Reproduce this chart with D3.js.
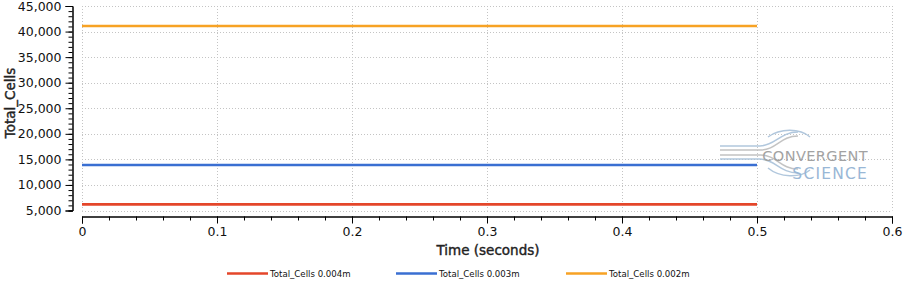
<!doctype html>
<html lang="en">
<head>
  <meta charset="utf-8">
  <style>
    body { margin: 0; background: #fff; }
    svg text { font-family: "DejaVu Sans", Verdana, sans-serif; }
  </style>
</head>
<body>
  <script src="https://d3js.org/d3.v7.min.js"></script>
  <div id="chart"></div>
  <script>
    // data
    var times = [0, 0.1, 0.2, 0.3, 0.4, 0.5];
    var cells004 = [6200, 6200, 6200, 6200, 6200, 6200];
    var cells003 = [13900, 13900, 13900, 13900, 13900, 13900];
    var cells002 = [41100, 41100, 41100, 41100, 41100, 41100];
    var seriesNames = ["Total_Cells 0.004m", "Total_Cells 0.003m", "Total_Cells 0.002m"];
    var seriesColors = ["#e4462a", "#3a6fd2", "#f7a224"];
    var xTicks = [0, 0.1, 0.2, 0.3, 0.4, 0.5, 0.6];
    var yTicks = [5000, 10000, 15000, 20000, 25000, 30000, 35000, 40000, 45000];

    var width = 903, height = 284;
    var plot = {left: 82, right: 892, top: 6, bottom: 210.5};

    var svg = d3.select("#chart").append("svg")
                .attr("width", width)
                .attr("height", height);

    var x = d3.scaleLinear().domain([0, 0.6]).range([plot.left, plot.right]);
    var y = d3.scaleLinear().domain([5000, 45000]).range([plot.bottom, plot.top]);

    // grid
    var grid = svg.append("g").attr("stroke", "#c4c4c4").attr("stroke-dasharray", "1,2");
    grid.selectAll("line.h").data(yTicks).enter().append("line")
        .attr("x1", plot.left).attr("x2", plot.right)
        .attr("y1", d => Math.round(y(d)) + 0.5).attr("y2", d => Math.round(y(d)) + 0.5);
    grid.selectAll("line.v").data(xTicks).enter().append("line")
        .attr("y1", plot.top).attr("y2", plot.bottom)
        .attr("x1", d => Math.round(x(d)) + 0.5).attr("x2", d => Math.round(x(d)) + 0.5);

    // x axis (offset below the plot)
    var xAxisY = 216.5;
    var xg = svg.append("g").attr("transform", "translate(0," + xAxisY + ")");
    xg.call(d3.axisBottom(x).tickValues(xTicks).tickFormat(d3.format("")).tickSize(7).tickPadding(4));
    xg.append("g").call(d3.axisBottom(x).tickValues(d3.range(0, 31).map(i => i * 0.02)).tickSize(4).tickFormat(""));
    xg.selectAll("text").attr("font-size", 12.5).attr("fill", "#111")
      .attr("font-family", "DejaVu Sans, sans-serif");
    xg.selectAll(".domain").attr("stroke", "#000");

    // y axis (offset left)
    var yAxisX = 72.5;
    var yg = svg.append("g").attr("transform", "translate(" + yAxisX + ",0)");
    yg.call(d3.axisLeft(y).tickValues(yTicks).tickFormat(d3.format(",")).tickSize(7).tickPadding(4));
    yg.append("g").call(d3.axisLeft(y).tickValues(d3.range(5, 46).map(i => i * 1000)).tickSize(4).tickFormat(""));
    yg.selectAll("text").attr("font-size", 12.5).attr("fill", "#111")
      .attr("font-family", "DejaVu Sans, sans-serif");
    yg.selectAll(".domain").attr("stroke", "#000");

    // titles (medium weight: normal face with a thin outline)
    svg.append("text")
       .attr("x", 488)
       .attr("y", 255)
       .attr("text-anchor", "middle")
       .attr("font-size", 13.5)
       .attr("fill", "#222").attr("stroke", "#222").attr("stroke-width", 0.4)
       .text("Time (seconds)");
    svg.append("text")
       .attr("transform", "translate(15,103) rotate(-90)")
       .attr("text-anchor", "middle")
       .attr("font-size", 13.5)
       .attr("fill", "#222").attr("stroke", "#222").attr("stroke-width", 0.4)
       .text("Total_Cells");

    // watermark
    var wm = svg.append("g").attr("opacity", 0.9);
    var swoosh = [
      {d: "M720,146 L760,146 C775,146 780,132 798,132", c: "#a9c2da"},
      {d: "M720,150 L760,150 C777,150 780,136 798,136", c: "#bdbdbd"},
      {d: "M720,155 L760,155 C777,155 780,169 798,169", c: "#bdbdbd"},
      {d: "M720,159 L760,159 C775,159 780,173 798,173", c: "#a9c2da"},
      {d: "M768,137 C780,128 800,128 810,137", c: "#a9c2da"},
      {d: "M768,168 C780,178 800,178 810,170", c: "#a9c2da"}
    ];
    wm.selectAll("path").data(swoosh).enter().append("path")
      .attr("d", d => d.d).attr("fill", "none").attr("stroke", d => d.c).attr("stroke-width", 1.5);
    wm.append("text").attr("x", 868).attr("y", 161).attr("font-size", 14.5)
      .attr("text-anchor", "end")
      .attr("fill", "#999").attr("font-family", "Lato, sans-serif")
      .attr("letter-spacing", 0.4).text("CONVERGENT");
    wm.append("text").attr("x", 868).attr("y", 179).attr("font-size", 15.5)
      .attr("text-anchor", "end")
      .attr("fill", "#8fb0d2").attr("font-family", "Lato, sans-serif")
      .attr("letter-spacing", 1.2).text("SCIENCE");

    // lines
    var series = [cells004, cells003, cells002];
    var line = d3.line().x((d, i) => x(times[i])).y(d => y(d));
    svg.append("g").selectAll("path").data(series).enter().append("path")
       .attr("d", d => line(d))
       .attr("fill", "none")
       .attr("stroke", (d, i) => seriesColors[i])
       .attr("stroke-width", 2.6);

    // legend
    var legendX = [227, 396, 566];
    var lg = svg.append("g").selectAll("g").data(seriesNames).enter().append("g")
                .attr("transform", (d, i) => "translate(" + legendX[i] + ",274)");
    lg.append("line").attr("x1", 0).attr("x2", 41).attr("y1", -0.5).attr("y2", -0.5)
      .attr("stroke", (d, i) => seriesColors[i]).attr("stroke-width", 2.5);
    lg.append("text").attr("x", 43).attr("y", 3).attr("font-size", 8.6)
      .attr("font-family", "Liberation Sans, Arial, sans-serif")
      .attr("fill", "#111").text(d => d);
  </script>
</body>
</html>
